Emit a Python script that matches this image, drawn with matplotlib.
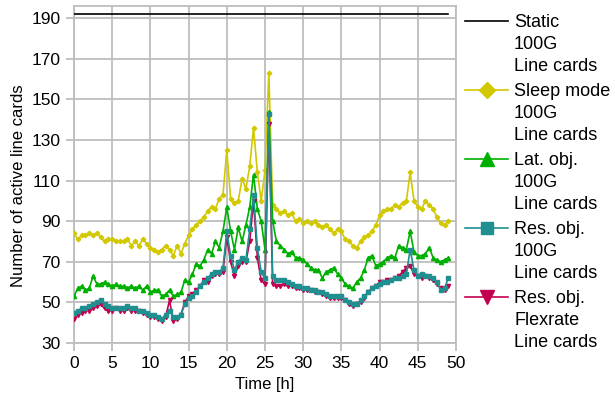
import numpy as np
import matplotlib
matplotlib.use("Agg")
import matplotlib.pyplot as plt
from matplotlib.lines import Line2D

plt.rcParams['font.family'] = ['Liberation Sans', 'DejaVu Sans']

# time axis, half-hour steps
hours = np.arange(0, 49.5, 0.5)

static_cards = [192] * len(hours)

sleep_mode = [
    84, 81, 83, 83, 84, 83, 84, 82, 80, 81,
    81, 80, 80, 80, 81, 78, 80, 78, 81, 79,
    77, 76, 75, 76, 78, 76, 73, 78, 74, 79,
    83, 86, 88, 90, 92, 95, 97, 96, 101, 103,
    125, 101, 99, 100, 111, 106, 117, 136, 114, 100,
    115, 163, 98, 96, 94, 95, 93, 94, 90, 91,
    89, 90, 89, 90, 88, 87, 88, 86, 84, 86,
    85, 81, 80, 78, 77, 80, 82, 83, 85, 88,
    93, 95, 96, 96, 98, 97, 99, 100, 114, 100,
    97, 96, 100, 98, 96, 92, 89, 88, 90,
]

lat_obj = [
    53, 57, 58, 56, 57, 63, 59, 59, 60, 59,
    58, 59, 58, 58, 57, 58, 57, 58, 56, 58,
    55, 56, 56, 53, 54, 56, 53, 54, 55, 61,
    60, 64, 69, 68, 71, 76, 74, 80, 77, 85,
    97, 85, 76, 87, 80, 88, 97, 113, 96, 90,
    76, 144, 90, 80, 78, 76, 74, 75, 72, 72,
    71, 69, 67, 66, 66, 62, 65, 66, 67, 64,
    62, 59, 58, 57, 60, 62, 66, 72, 73, 68,
    69, 70, 72, 73, 72, 78, 77, 76, 85, 75,
    73, 73, 74, 77, 72, 71, 70, 71, 72,
]

res_obj_100g = [
    45, 46, 47, 47, 48, 49, 50, 51, 49, 48,
    47, 47, 47, 47, 48, 47, 47, 46, 46, 45,
    44, 44, 43, 42, 44, 46, 43, 43, 44, 49,
    52, 53, 55, 58, 60, 62, 64, 65, 65, 67,
    85, 73, 66, 70, 72, 71, 86, 103, 77, 65,
    62, 143, 63, 61, 61, 61, 60, 59, 58, 58,
    57, 57, 56, 56, 55, 55, 54, 53, 53, 53,
    53, 51, 50, 49, 49, 51, 53, 55, 57, 58,
    59, 60, 60, 61, 62, 62, 63, 64, 76, 66,
    63, 64, 63, 63, 62, 60, 56, 57, 62,
]

res_obj_flex = [
    42, 44, 45, 46, 46, 47, 48, 49, 47, 46,
    46, 47, 46, 46, 47, 46, 46, 46, 45, 44,
    43, 43, 42, 41, 43, 51, 41, 42, 44, 50,
    53, 54, 56, 58, 61, 60, 63, 64, 64, 65,
    82, 70, 63, 68, 70, 70, 80, 100, 72, 61,
    59, 138, 59, 58, 58, 59, 58, 58, 57, 57,
    56, 56, 56, 55, 55, 54, 53, 52, 52, 52,
    52, 51, 49, 48, 49, 50, 52, 55, 57, 58,
    60, 60, 61, 61, 62, 63, 65, 67, 68, 64,
    63, 62, 63, 62, 61, 59, 57, 56, 58,
]

series = [
    (static_cards, 'Static\n100G\nLine cards', 'black', None, 0),
    (sleep_mode, 'Sleep mode\n100G\nLine cards', '#d2c800', 'D', 2.3),
    (lat_obj, 'Lat. obj.\n100G\nLine cards', '#00b000', '^', 3.0),
    (res_obj_100g, 'Res. obj.\n100G\nLine cards', '#1f8f8f', 's', 3.0),
    (res_obj_flex, 'Res. obj.\nFlexrate\nLine cards', '#c2004f', 'v', 3.0),
]
legend_ms = [0, 8, 10, 9, 10]

fig = plt.figure(figsize=(6.15, 3.99), dpi=100)
ax = fig.add_axes([74 / 615, 1 - 343 / 399, (456 - 74) / 615, (343 - 6) / 399])

grid_col = '#bdbdbd'

# draw flexrate before 100G so the teal sits on top
draw_order = [0, 1, 2, 4, 3]
for z, i in enumerate(draw_order):
    vals, lab, col, mk, ms = series[i]
    ax.plot(hours, vals, color=col, lw=1.2, marker=mk, ms=ms, zorder=3 + z)

ax.set_xlim(0, 50)
ax.set_ylim(30, 196)
ax.set_xticks(np.arange(0, 51, 5))
ax.set_yticks(np.arange(30, 191, 20))
ax.grid(True, color=grid_col, lw=1.3)
ax.set_axisbelow(True)
for s in ax.spines.values():
    s.set_color(grid_col)
    s.set_linewidth(1.3)
ax.tick_params(colors=grid_col, labelcolor='black', labelsize=12.5,
               length=6, width=1.3)

ax.set_xlabel('Time [h]', fontsize=12, labelpad=4)
ax.set_ylabel('Number of active line cards', fontsize=12, labelpad=4)
ax.yaxis.label.set_y(0.466)

# legend drawn by hand so each key lines up with the first text line
W, H = 615, 399
for k, (vals, lab, col, mk, ms) in enumerate(series):
    y = 21 + k * 69
    fig.add_artist(Line2D([465 / W, 508 / W], [1 - y / H, 1 - y / H],
                          color=col, lw=1.2, transform=fig.transFigure))
    if mk:
        fig.add_artist(Line2D([486.5 / W], [1 - y / H], color=col,
                              marker=mk, ms=legend_ms[k], lw=0,
                              transform=fig.transFigure))
    fig.text(514 / W, 1 - (y - 7) / H, lab, fontsize=13, va='top',
             ha='left', linespacing=1.38)

fig.savefig('out.png', dpi=100)
